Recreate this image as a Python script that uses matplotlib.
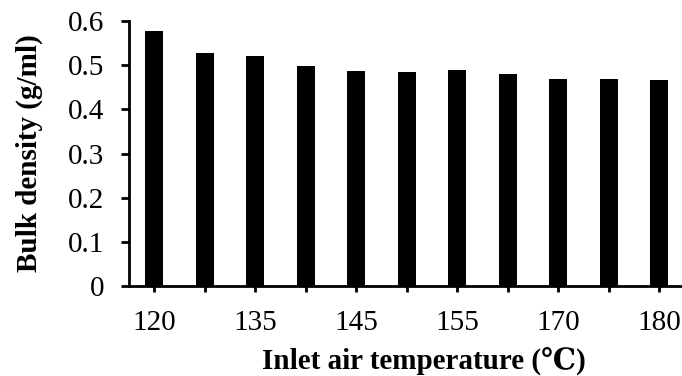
import matplotlib
matplotlib.use("Agg")
import matplotlib.pyplot as plt
import numpy as np

plt.rcParams['font.family'] = ['Liberation Serif', 'DejaVu Serif']

temps = ["120", "130", "135", "140", "145", "150", "155", "160", "170", "175", "180"]
density = [0.578, 0.527, 0.521, 0.497, 0.486, 0.484, 0.489, 0.480, 0.469, 0.468, 0.467]
shown = ["120", "135", "145", "155", "170", "180"]

fig = plt.figure(figsize=(6.82, 3.76), dpi=100)
ax = fig.add_axes([129 / 682, 90 / 376, 1 - 129 / 682, (286 - 21) / 376])

x = np.arange(len(temps))
ax.bar(x, density, width=0.36, color="black")

ax.set_xlim(-0.5, len(temps) - 0.55)
ax.set_ylim(0, 0.6)
ax.set_yticks(np.arange(0, 0.61, 0.1))
ax.set_yticklabels(["0", "0.1", "0.2", "0.3", "0.4", "0.5", "0.6"])
ax.set_xticks(x)
ax.set_xticklabels([t if t in shown else "" for t in temps])

for s in ["top", "right"]:
    ax.spines[s].set_visible(False)
for s in ["left", "bottom"]:
    ax.spines[s].set_linewidth(2)

ax.tick_params(axis="y", direction="out", length=6, width=2, labelsize=21, pad=12)
ax.tick_params(axis="x", direction="out", length=4, width=2, labelsize=21, pad=13)

ax.set_ylabel("Bulk density (g/ml)", fontsize=21, fontweight="bold", labelpad=18)
ax.set_xlabel("Inlet air temperature (℃)", fontsize=21, fontweight="bold", labelpad=8)
ax.xaxis.label.set_x(0.533)

fig.savefig("out.png", dpi=100)
